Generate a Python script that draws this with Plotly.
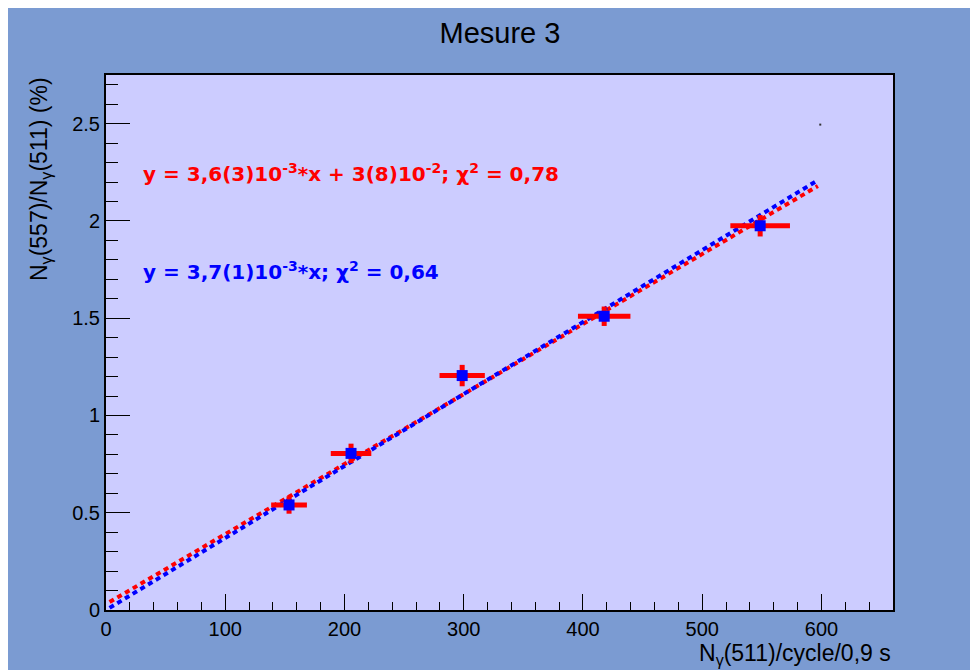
import numpy as np
import plotly.graph_objects as go

# Data
x_vals = [153.5, 205.5, 298.7, 417.8, 548.6]
y_vals = [0.54, 0.805, 1.205, 1.51, 1.975]
x_err = [15, 17, 19, 22, 25]
y_err = [0.045, 0.05, 0.055, 0.05, 0.055]

# Fit parameters (slope, intercept)
fit_red = (0.0036, 0.03)
fit_blue = (0.0037, 0.0)
fit_range = [3, 597]

x_ticks = [0, 100, 200, 300, 400, 500, 600]
y_ticks = [0, 0.5, 1, 1.5, 2, 2.5]
y_tick_labels = ["0", "0.5", "1", "1.5", "2", "2.5"]

BLUE_BG = "#7b9bd2"
PLOT_BG = "#ccccff"
FONT = "Liberation Sans, Arial, sans-serif"
BOLD_FONT = "DejaVu Sans, Liberation Sans, sans-serif"

fig = go.Figure()

xr = np.array(fit_range, dtype=float)
fig.add_trace(go.Scatter(
    x=xr, y=fit_red[0] * xr + fit_red[1], mode="lines",
    line=dict(color="#ff0000", width=4, dash="5px,4px"), hoverinfo="skip"))
fig.add_trace(go.Scatter(
    x=xr, y=fit_blue[0] * xr + fit_blue[1], mode="lines",
    line=dict(color="#0000ff", width=4, dash="5px,4px"), hoverinfo="skip"))

fig.add_trace(go.Scatter(
    x=x_vals, y=y_vals, mode="markers",
    marker=dict(symbol="square", size=11, color="#0000ff", line=dict(width=0)),
    error_x=dict(type="data", array=x_err, color="#ff0000", thickness=5, width=0),
    error_y=dict(type="data", array=y_err, color="#ff0000", thickness=5, width=0),
))

# tiny stray point visible in the reference
fig.add_trace(go.Scatter(x=[599], y=[2.495], mode="markers",
                         marker=dict(size=2, color="#333333", symbol="square"),
                         hoverinfo="skip"))

# plot area in reference pixels: x 106..893, y 75..610 (page has 8px body margin)
fig.update_layout(
    width=978, height=670,
    margin=dict(l=98, r=93, t=67, b=68, pad=0),
    paper_bgcolor=BLUE_BG,
    plot_bgcolor=PLOT_BG,
    showlegend=False,
    font=dict(family=FONT, color="black", size=20),
    title=dict(text="Mesure 3", x=492 / 978, xanchor="center", y=1 - 25 / 670, yanchor="middle",
               font=dict(size=29, family=FONT, color="black")),
    xaxis=dict(range=[0, 660], tickvals=x_ticks, ticks="inside", ticklen=16, tickwidth=1.2,
               tickcolor="black", showgrid=False, zeroline=False,
               showline=True, linecolor="black", linewidth=2, mirror=True,
               minor=dict(ticks="inside", ticklen=8, dtick=20, tickcolor="black", tickwidth=1.2),
               tickfont=dict(size=20)),
    yaxis=dict(range=[0, 2.75], tickvals=y_ticks, ticktext=y_tick_labels, ticks="inside",
               ticklen=24, tickwidth=1.2, tickcolor="black", showgrid=False, zeroline=False,
               showline=True, linecolor="black", linewidth=2, mirror=True,
               minor=dict(ticks="inside", ticklen=12, dtick=0.1, tickcolor="black", tickwidth=1.2),
               tickfont=dict(size=20)),
)

fig.add_annotation(
    text="<b>y = 3,6(3)10<sup>-3</sup>*x + 3(8)10<sup>-2</sup>; χ<sup>2</sup> = 0,78</b>",
    xref="paper", yref="paper", x=(141 - 106) / 787, y=(610 - 173) / 535,
    xanchor="left", yanchor="middle", showarrow=False,
    font=dict(size=20, color="#ff0000", family=BOLD_FONT))
fig.add_annotation(
    text="<b>y = 3,7(1)10<sup>-3</sup>*x; χ<sup>2</sup> = 0,64</b>",
    xref="paper", yref="paper", x=(141 - 106) / 787, y=(610 - 271) / 535,
    xanchor="left", yanchor="middle", showarrow=False,
    font=dict(size=20, color="#0000ff", family=BOLD_FONT))

fig.add_annotation(
    text="N<sub>γ</sub>(511)/cycle/0,9 s",
    xref="paper", yref="paper", x=1.0, y=(610 - 654) / 535,
    xanchor="right", yanchor="middle", showarrow=False,
    font=dict(size=23, color="black", family=FONT))
fig.add_annotation(
    text="N<sub>γ</sub>(557)/N<sub>γ</sub>(511) (%)",
    xref="paper", yref="paper", x=(40 - 106) / 787, y=1.0,
    xanchor="center", yanchor="top", textangle=-90, showarrow=False,
    font=dict(size=23, color="black", family=FONT))

fig.write_html("out.html")
